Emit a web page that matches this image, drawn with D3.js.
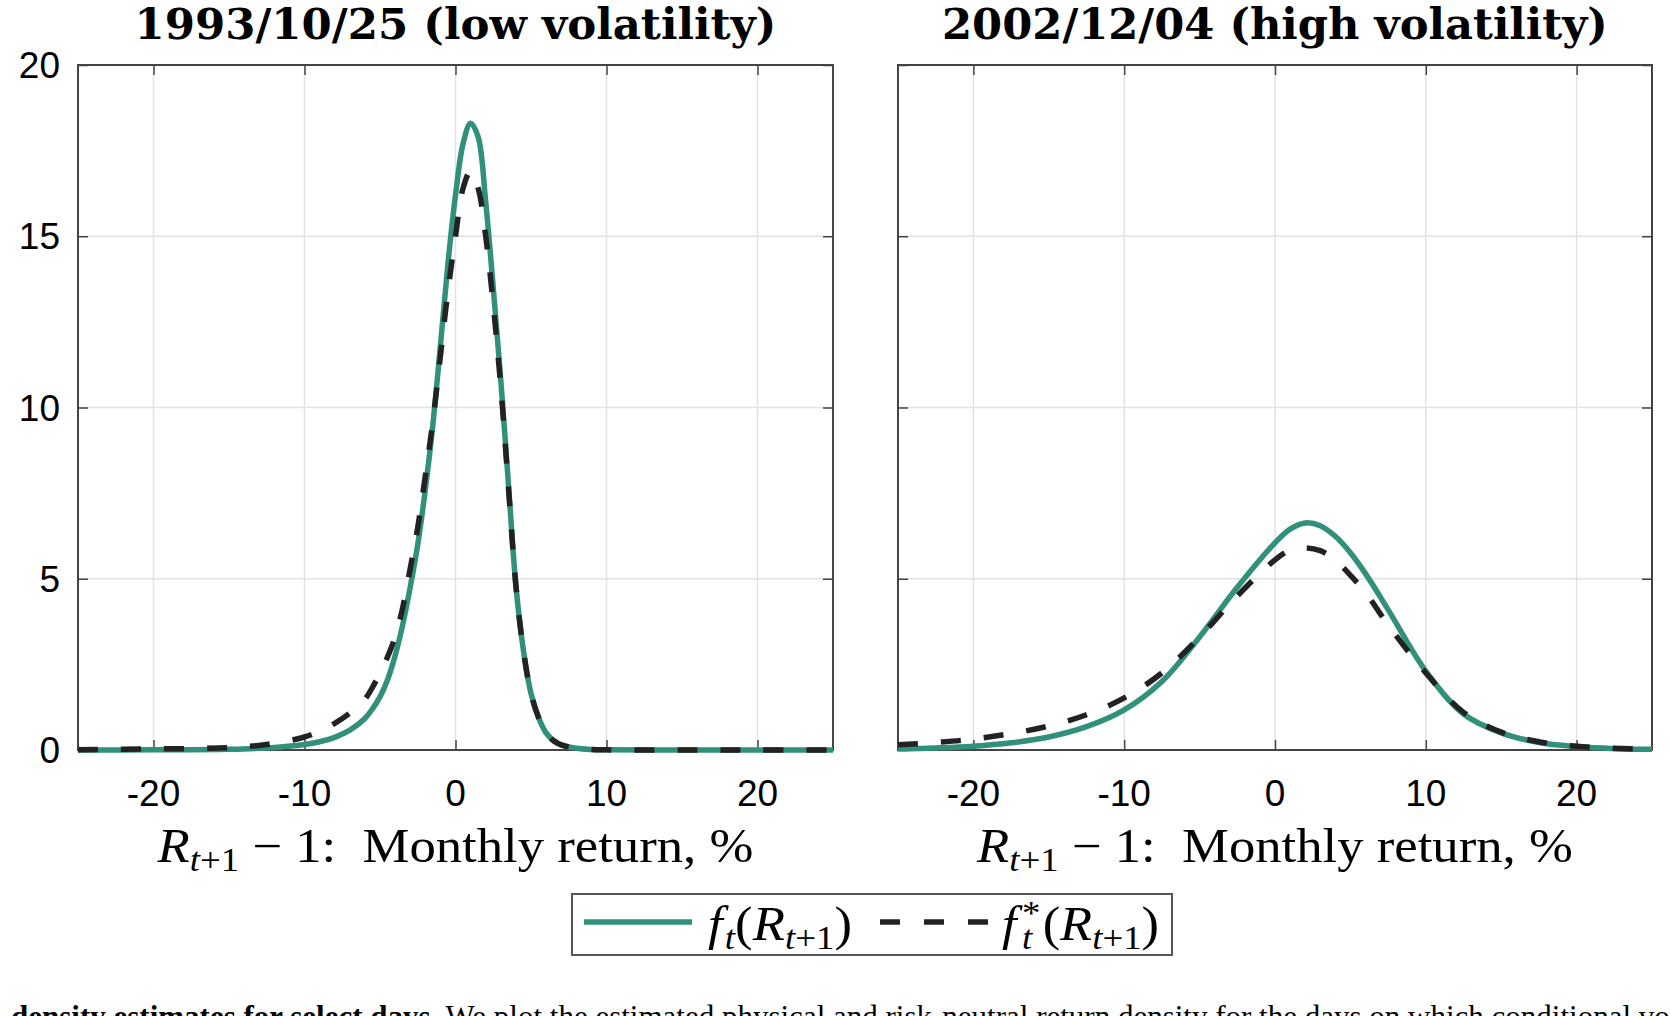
<!DOCTYPE html>
<html>
<head>
<meta charset="utf-8">
<script src="https://cdn.jsdelivr.net/npm/d3@7"></script>
<style>
  body { margin: 0; background: #fff; overflow: hidden; }
  svg { display: block; }
</style>
</head>
<body>
<svg id="chart" width="1670" height="1016"></svg>
<script>
// tick values shared by both panels
const xTicks = [-20, -10, 0, 10, 20];
const yTicks = [0, 5, 10, 15, 20];

// 1993/10/25 (low volatility)
const lowX = [-25, -20, -15, -12.5, -10, -9, -8, -7, -6, -5.5, -5, -4.5, -4, -3.5, -3, -2.5, -2, -1.5, -1, -0.5,
    0, 0.5, 1, 1.5, 2, 2.5, 3, 3.5, 4, 4.5, 5, 5.5, 6, 6.5, 7, 8, 9, 10, 15, 20, 25];
const lowPhysical = [0, 0.005, 0.02, 0.06, 0.16, 0.24, 0.37, 0.58, 0.92, 1.2, 1.55, 2.05, 2.75, 3.65, 4.75, 6.0, 7.6, 9.5, 11.8, 14.2,
    16.2, 17.7, 18.3, 17.9, 16.0, 13.5, 10.8, 7.8, 4.8, 2.9, 1.65, 0.95, 0.5, 0.27, 0.15, 0.05, 0.015, 0.005, 0, 0, 0];
const lowRiskNeutral = [0.01, 0.03, 0.07, 0.16, 0.38, 0.55, 0.78, 1.08, 1.48, 1.83, 2.25, 2.72, 3.3, 4.15, 5.3, 6.5, 8.0, 9.6, 11.5, 13.4,
    15.0, 16.4, 16.9, 16.4, 15.0, 13.0, 10.6, 7.7, 4.8, 2.9, 1.65, 0.95, 0.5, 0.27, 0.15, 0.05, 0.015, 0.005, 0, 0, 0];

// 2002/12/04 (high volatility)
const highX = [-25, -22.5, -20, -17.5, -15, -12.5, -10, -7.5, -5, -2.5, 0, 1, 2, 3, 4, 5, 6, 7.5, 10, 12.5, 15, 17.5, 20, 22.5, 25];
const highPhysical = [0.03, 0.06, 0.11, 0.21, 0.38, 0.68, 1.17, 2.0, 3.3, 4.75, 6.05, 6.45, 6.63, 6.55, 6.24, 5.76, 5.15, 4.1, 2.3,
    1.05, 0.5, 0.22, 0.1, 0.04, 0.02];
const highRiskNeutral = [0.15, 0.22, 0.32, 0.48, 0.7, 1.03, 1.52, 2.25, 3.3, 4.5, 5.55, 5.83, 5.9, 5.82, 5.55, 5.1, 4.6, 3.65, 2.25,
    1.1, 0.52, 0.24, 0.11, 0.05, 0.02];

const panelTitles = ['1993/10/25 (low volatility)', '2002/12/04 (high volatility)'];

const teal = '#31907a';
const dark = '#222222';
const serif = '"Liberation Serif", "Times New Roman", serif';
const sans = '"Liberation Sans", Arial, sans-serif';

const svg = d3.select('#chart');
const plotTop = 65, plotBottom = 750;

const panels = [
    { left: 78, right: 833, title: panelTitles[0], titleW: 642, xs: lowX, phys: lowPhysical, rn: lowRiskNeutral, yLabels: true },
    { left: 898, right: 1652, title: panelTitles[1], titleW: 666, xs: highX, phys: highPhysical, rn: highRiskNeutral, yLabels: false }
];

// lays out runs of text one after another, then stretches the group to a target width
function mathText(parent, cx, baseline, runs, size, family, weight, targetW, anchor) {
    const g = parent.append('g');
    let x = 0, lastStart = 0, maxX = 0;
    runs.forEach(r => {
        const fs = size * (r.scale || 1);
        if (r.stack) x = lastStart;
        const t = g.append('text')
            .attr('x', x + (r.dx || 0))
            .attr('y', r.dy || 0)
            .attr('font-family', family)
            .attr('font-size', fs)
            .attr('font-weight', weight || 'normal')
            .attr('font-style', r.it ? 'italic' : 'normal')
            .attr('fill', '#000')
            .style('white-space', 'pre')
            .text(r.t);
        const w = t.node().getComputedTextLength();
        lastStart = x + (r.dx || 0);
        x = Math.max(x + w + (r.dx || 0), maxX);
        maxX = x;
    });
    const sx = targetW ? targetW / maxX : 1;
    const x0 = anchor === 'start' ? cx : cx - maxX * sx / 2;
    g.attr('transform', `translate(${x0},${baseline}) scale(${sx},1)`);
    return g;
}

panels.forEach(p => {
    const x = d3.scaleLinear().domain([-25, 25]).range([p.left, p.right]);
    const y = d3.scaleLinear().domain([0, 20]).range([plotBottom, plotTop]);
    const g = svg.append('g');

    // grid
    g.append('g').selectAll('line').data(xTicks).enter().append('line')
        .attr('x1', d => x(d)).attr('x2', d => x(d)).attr('y1', plotTop).attr('y2', plotBottom)
        .attr('stroke', '#e2e2e2').attr('stroke-width', 1.5);
    g.append('g').selectAll('line').data(yTicks.slice(1, -1)).enter().append('line')
        .attr('x1', p.left).attr('x2', p.right).attr('y1', d => y(d)).attr('y2', d => y(d))
        .attr('stroke', '#e2e2e2').attr('stroke-width', 1.5);

    // axes box with inward ticks
    const axisColor = '#444';
    const bx = g.append('g')
        .attr('transform', `translate(0,${plotBottom})`)
        .call(d3.axisTop(x).tickValues(xTicks).tickSize(10).tickFormat(''));
    const tx = g.append('g')
        .attr('transform', `translate(0,${plotTop})`)
        .call(d3.axisBottom(x).tickValues(xTicks).tickSize(10).tickFormat(''));
    const ly = g.append('g')
        .attr('transform', `translate(${p.left},0)`)
        .call(d3.axisRight(y).tickValues(yTicks).tickSize(10).tickFormat(''));
    const ry = g.append('g')
        .attr('transform', `translate(${p.right},0)`)
        .call(d3.axisLeft(y).tickValues(yTicks).tickSize(10).tickFormat(''));
    [bx, tx, ly, ry].forEach(a => {
        a.select('.domain').remove();
        a.selectAll('line').attr('stroke', axisColor).attr('stroke-width', 1.5);
    });
    g.append('rect')
        .attr('x', p.left).attr('y', plotTop)
        .attr('width', p.right - p.left).attr('height', plotBottom - plotTop)
        .attr('fill', 'none').attr('stroke', axisColor).attr('stroke-width', 2);

    // tick labels
    g.append('g').selectAll('text').data(xTicks).enter().append('text')
        .attr('x', d => x(d)).attr('y', 806)
        .attr('text-anchor', 'middle')
        .attr('font-family', sans).attr('font-size', 37)
        .text(d => d);
    if (p.yLabels) {
        g.append('g').selectAll('text').data(yTicks).enter().append('text')
            .attr('x', 60).attr('y', d => y(d) + 13)
            .attr('text-anchor', 'end')
            .attr('font-family', sans).attr('font-size', 37)
            .text(d => d);
    }

    // density curves
    const line = d3.line()
        .x(d => x(d[0])).y(d => y(d[1]))
        .curve(d3.curveCatmullRom.alpha(0.5));
    g.append('path')
        .datum(p.xs.map((v, i) => [v, p.phys[i]]))
        .attr('d', line)
        .attr('fill', 'none').attr('stroke', teal).attr('stroke-width', 5.5)
        .attr('stroke-linejoin', 'round');
    g.append('path')
        .datum(p.xs.map((v, i) => [v, p.rn[i]]))
        .attr('d', line)
        .attr('fill', 'none').attr('stroke', dark).attr('stroke-width', 5.5)
        .attr('stroke-dasharray', '20,23');

    // title
    mathText(svg, (p.left + p.right) / 2, 39, [{ t: p.title }], 42,
        '"DejaVu Serif", serif', 'bold', p.titleW);

    // x label
    mathText(svg, (p.left + p.right) / 2, 862, [
        { t: 'R', it: true },
        { t: 't', it: true, scale: 0.7, dy: 9 },
        { t: '+1', scale: 0.7, dy: 9 },
        { t: ' \u2212 1:  Monthly return, %' }
    ], 48, serif, 'normal', 596);
});

// legend
const leg = svg.append('g');
leg.append('rect')
    .attr('x', 572).attr('y', 894).attr('width', 600).attr('height', 61)
    .attr('fill', '#fff').attr('stroke', '#555').attr('stroke-width', 2);
leg.append('line')
    .attr('x1', 584).attr('x2', 692).attr('y1', 922).attr('y2', 922)
    .attr('stroke', teal).attr('stroke-width', 5.5);
leg.append('line')
    .attr('x1', 880).attr('x2', 988).attr('y1', 922).attr('y2', 922)
    .attr('stroke', dark).attr('stroke-width', 5.5).attr('stroke-dasharray', '20,24');
mathText(leg, 708, 940, [
    { t: 'f', it: true },
    { t: 't', it: true, scale: 0.7, dy: 9, dx: 2 },
    { t: '(' },
    { t: 'R', it: true },
    { t: 't', it: true, scale: 0.7, dy: 9 },
    { t: '+1', scale: 0.7, dy: 9 },
    { t: ')' }
], 48, serif, 'normal', 144, 'start');
mathText(leg, 1002, 940, [
    { t: 'f', it: true },
    { t: '*', scale: 0.7, dy: -16, dx: 5 },
    { t: 't', it: true, scale: 0.7, dy: 9, stack: true },
    { t: '(', dx: 2 },
    { t: 'R', it: true },
    { t: 't', it: true, scale: 0.7, dy: 9 },
    { t: '+1', scale: 0.7, dy: 9 },
    { t: ')' }
], 48, serif, 'normal', 157, 'start');

// caption (cut off by the page edge)
const cap = svg.append('text')
    .attr('x', 11).attr('y', 1027)
    .attr('font-family', serif).attr('font-size', 31);
cap.append('tspan').attr('font-weight', 'bold').text('density estimates for select days.');
cap.append('tspan').text(' We plot the estimated physical and risk-neutral return density for the days on which conditional volatility');
</script>
</body>
</html>
